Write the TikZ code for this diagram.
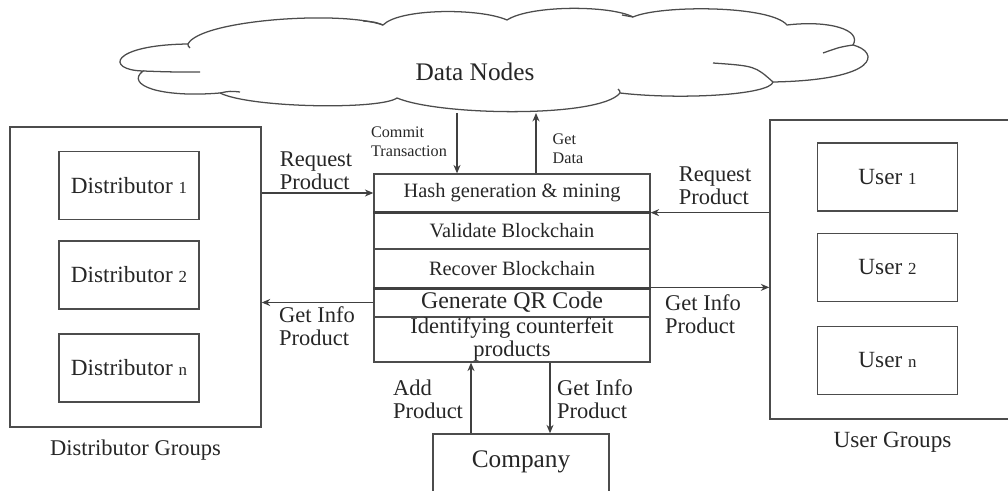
\documentclass[tikz,border=0pt]{standalone}
\usepackage{fontspec}
\setmainfont{Liberation Serif}
\usetikzlibrary{calc}
\usetikzlibrary{positioning}
\usetikzlibrary{arrows.meta}
\tikzset{my arrow/.style={-{Stealth[length=6pt,width=5pt]}, line width=0.9pt, black!75}}
\tikzset{cloud line/.style={line width=0.9pt, black!70}}
\tikzstyle{group} = [rectangle, draw=black!70, line width=1pt, inner sep=0pt]
\tikzstyle{member} = [rectangle, draw=black!70, line width=1pt, minimum width=3.5cm, minimum height=1.7cm, font=\fontsize{16.5}{16.5}\selectfont]
\tikzstyle{row} = [rectangle, draw=black!70, line width=0.9pt, minimum width=6.9cm, inner sep=0pt, align=center]
\tikzstyle{lbl} = [align=left, inner sep=0pt, font=\fontsize{16}{16.3}\selectfont]
\newcommand{\grpidx}[1]{{\fontsize{12}{12}\selectfont #1}}

\begin{document}
\begin{tikzpicture}[x=0.025cm, y=-0.025cm, text=black!85]
  \useasboundingbox (0,0) rectangle (1008,491);
  % blockchain network (cloud)
  \draw [cloud line] (143,71)
    .. controls (105,70) and (110,45) .. (188,44)
    .. controls (200,20) and (340,10) .. (383,25)
    .. controls (400,8) and (480,8) .. (507,20)
    .. controls (530,5) and (610,5) .. (633,17)
    .. controls (660,5) and (770,5) .. (787,25)
    .. controls (830,20) and (862,30) .. (853,45)
    .. controls (880,52) and (880,80) .. (773,82)
    .. controls (770,95) and (680,100) .. (620,93)
    .. controls (600,118) and (440,116) .. (397,98)
    .. controls (380,110) and (250,108) .. (220,93)
    .. controls (160,98) and (125,85) .. (143,71) -- cycle;
  \draw [cloud line] (143,71) .. controls (170,72) .. (200,72);
  \draw [cloud line] (188,44) .. controls (188,46) .. (190,48);
  \draw [cloud line] (383,25) .. controls (375,22) .. (363,21);
  \draw [cloud line] (633,17) .. controls (628,16) .. (622,15);
  \draw [cloud line] (853,45) .. controls (840,47) .. (823,53);
  \draw [cloud line] (713,63) .. controls (755,66) .. (773,82);
  \draw [cloud line] (620,93) .. controls (620,91) .. (618,89);
  \draw [cloud line] (220,93) .. controls (230,91) .. (240,92);
  \coordinate (cloudbottom) at (491,113);
  \node [font=\fontsize{18}{18}\selectfont] (datanodes) at (475,72) {Data Nodes};

  % distributors
  \node [group, minimum width=6.275cm, minimum height=7.5cm] (distgrp) at (135.5,277) {};
  \node [member] (dist1) at (129,185.5) {Distributor \grpidx{1}};
  \node [member] (dist2) at (129,275)   {Distributor \grpidx{2}};
  \node [member] (distn) at (129,368)   {Distributor \grpidx{n}};
  \node [below=0.3cm of distgrp, inner sep=0pt, font=\fontsize{16}{16}\selectfont] (distgrplbl) {Distributor Groups};

  % users
  \node [group, minimum width=6.125cm, minimum height=7.475cm] (usergrp) at (892.5,269.5) {};
  \node [member] (user1) at (887.5,177)   {User \grpidx{1}};
  \node [member] (user2) at (887.5,267.5) {User \grpidx{2}};
  \node [member] (usern) at (887.5,360.5) {User \grpidx{n}};
  \node [below=0.3cm of usergrp, inner sep=0pt, font=\fontsize{16.5}{16.5}\selectfont] (usergrplbl) {User Groups};

  % smart contract functions
  \node [row, minimum height=0.95cm,  font=\fontsize{14.5}{14.5}\selectfont] (hash)    at (512,193)   {Hash generation \& mining};
  \node [row, minimum height=0.925cm, font=\fontsize{14.5}{14.5}\selectfont] (valid)   at (512,230.5) {Validate Blockchain};
  \node [row, minimum height=0.975cm, font=\fontsize{14.5}{14.5}\selectfont] (recover) at (512,268.5) {Recover Blockchain};
  \node [row, minimum height=0.725cm, font=\fontsize{17}{17}\selectfont]     (qr)      at (512,302.5) {Generate QR Code};
  \node [row, minimum height=1.125cm, font=\fontsize{16}{17}\selectfont]     (ident)   at (512,339.5) {Identifying counterfeit\\products};
  \draw [line width=1.8pt, black!75] (hash.south west) -- (hash.south east);
  \draw [line width=1.8pt, black!75] (recover.south west) -- (recover.south east);

  % company
  \node [member, minimum width=4.4cm, minimum height=1.75cm] (company) at (521,469) {};
  \node [inner sep=0pt, font=\fontsize{18}{18}\selectfont] (companytext) at (521,462) {Company};

  \coordinate (commitfoot) at ($(hash.north)+(-55,0)$);
  \coordinate (getdatafoot) at ($(hash.north)+(24,0)$);
  \coordinate (addfoot) at ($(company.north)+(-50,0)$);
  \coordinate (infofoot) at ($(company.north)+(29,0)$);

  \draw [my arrow] (commitfoot |- cloudbottom) -- (commitfoot);
  \draw [my arrow] (getdatafoot) -- (getdatafoot |- cloudbottom);
  \draw [my arrow] (distgrp.east |- hash.west) -- (hash.west);
  \draw [my arrow] (usergrp.west |- hash.south east) -- (hash.south east);
  \draw [my arrow] (qr.west) -- (distgrp.east |- qr.west);
  \draw [my arrow] (qr.north east) -- (usergrp.west |- qr.north east);
  \draw [my arrow] (addfoot) -- (addfoot |- ident.south);
  \draw [my arrow] (infofoot |- ident.south) -- (infofoot);

  \node [lbl, font=\fontsize{11.5}{13.5}\selectfont] (commitlbl)  at (409,142)   {Commit\\Transaction};
  \node [lbl, font=\fontsize{11.5}{13.5}\selectfont] (getdatalbl) at (568,149)   {Get\\Data};
  \node [lbl] (distreqlbl)  at (316,171)   {Request\\Product};
  \node [lbl] (userreqlbl)  at (715,186)   {Request\\Product};
  \node [lbl] (distinfolbl) at (317,326)   {Get Info\\Product};
  \node [lbl] (userinfolbl) at (703,314)   {Get Info\\Product};
  \node [lbl] (addlbl)      at (428,399.5) {Add\\Product};
  \node [lbl] (compinfolbl) at (595,399.5) {Get Info\\Product};
\end{tikzpicture}
\end{document}
